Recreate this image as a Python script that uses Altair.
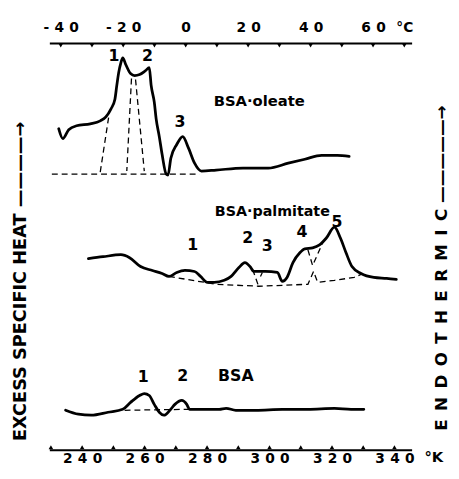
import altair as alt
import pandas as pd

# ---- data (x in K, y in arbitrary units of excess specific heat) ----
oleate_K = [232.5, 233.8, 235.7, 238.2, 242.6, 245.8, 247.6, 249.2, 250.5, 251.1, 251.7, 252.4,
            253.0, 254.0, 255.5, 256.8, 258.4, 260.3, 261.5, 262.1, 263.1, 263.7, 264.7, 265.6,
            266.9, 267.5, 268.4, 270.3, 272.2, 274.1, 276.0, 278.2, 282.9, 291.5, 299.6, 306.0,
            311.3, 316.7, 321.7, 325.5]
oleate_y = [326, 316, 325, 329, 331, 334, 338, 346, 356, 370, 383, 393,
            398, 391, 382, 380, 381, 385, 388, 370, 353, 336, 318, 300,
            280, 279, 296, 310, 318, 306, 291, 283, 284, 286, 286, 291,
            295, 299, 299, 298]

palm_K = [242.0, 246.7, 252.4, 255.2, 258.7, 262.5, 265.6, 267.8, 270.3, 272.9, 276.0, 277.9,
          280.1, 282.3, 285.5, 287.7, 290.2, 292.1, 294.0, 294.9, 298.7, 302.5, 304.1, 305.6,
          307.5, 309.7, 311.3, 313.8, 316.0, 318.2, 320.8, 322.7, 324.5, 326.4, 329.3, 333.4,
          337.5, 340.6]
palm_y = [194, 196, 198, 195, 186, 182, 179, 176, 180, 182, 181, 176,
          170, 170, 172, 176, 185, 190, 185, 181, 181, 180, 171, 175,
          190, 200, 204, 205, 208, 215, 226, 215, 200, 186, 179, 175,
          174, 173]

bsa_K = [234.7, 238.8, 242.9, 248.3, 253.0, 255.5, 258.4, 259.9, 261.5, 263.1, 264.7, 266.2,
         268.1, 269.7, 271.9, 273.5, 274.4, 278.8, 283.9, 286.1, 289.2, 295.6, 304.1, 312.3,
         320.8, 326.1, 330.2]
bsa_y = [40, 36, 35, 38, 41, 48, 55, 57, 55, 46, 38, 35,
         40, 46, 50, 46, 41, 41, 41, 42, 40, 40, 41, 41,
         42, 41, 41]

# dashed construction lines (baselines and peak resolution)
dash_segments = {
    "ole_base": ([230.3, 277.6], [280, 280]),
    "ole_c1L": ([245.8, 248.6], [282, 340]),
    "ole_c1R": ([257.1, 259.9], [376, 283]),
    "ole_c2L": ([255.8, 254.3], [377, 283]),
    "pal_base": ([267.8, 282.9, 296.5, 312.3, 314.1, 315.4, 320.8, 327.1, 329.3],
                 [176, 168, 166, 168, 181, 170, 172, 175, 178]),
    "pal_23": ([294.6, 296.5], [183, 166]),
    "pal_3": ([297.1, 297.7], [176, 180]),
    "pal_45": ([312.3, 313.8, 317.0], [203, 187, 210]),
    "bsa_base": ([253.6, 274.1], [40, 41]),
}

label_text = ["1", "2", "3", "BSA·oleate",
              "BSA·palmitate", "1", "2", "3", "4", "5",
              "1", "2", "BSA", "°K"]
label_K = [250.2, 260.9, 271.3, 296.7,
           300.9, 275.4, 293.0, 299.3, 310.4, 321.6,
           259.6, 272.2, 289.2, 352.6]
label_y = [400, 400, 333, 354.5,
           241.5, 208, 215, 207, 221, 231,
           74, 75, 75, -8]
label_size = [16, 16, 16, 15,
              14.5, 16, 16, 16, 16, 16,
              16, 16, 16, 15]

k_ticks = [230, 240, 250, 260, 270, 280, 290, 300, 310, 320, 330, 340]
c_ticks = [-40, -30, -20, -10, 0, 10, 20, 30, 40, 50, 60, 70]

# ---- build tables ----
rows = []
for name, ks, ys in [("oleate", oleate_K, oleate_y), ("palmitate", palm_K, palm_y), ("bsa", bsa_K, bsa_y)]:
    for i, (k, v) in enumerate(zip(ks, ys)):
        rows.append({"series": name, "i": i, "K": k, "y": v})
curve_df = pd.DataFrame(rows)

drows = []
for name, (ks, ys) in dash_segments.items():
    for i, (k, v) in enumerate(zip(ks, ys)):
        drows.append({"seg": name, "i": i, "K": k, "y": v})
dash_df = pd.DataFrame(drows)

lab_df = pd.DataFrame({"t": label_text, "K": label_K, "y": label_y, "fs": label_size})

tick_rows = [{"K": k, "ya": 2.5, "shp": "triangle-up"} for k in k_ticks]
tick_rows += [{"K": c + 273.15, "ya": 410.5, "shp": "triangle-down"} for c in c_ticks]
tick_df = pd.DataFrame(tick_rows)

W, H = 368, 413
FONT = "DejaVu Sans"
SP = "\u2008"

xs = alt.Scale(domain=[229.5, 345.5], nice=False, zero=False)
ys = alt.Scale(domain=[0, 413], nice=False, zero=False)

bottom_axis = alt.Axis(
    orient="bottom", values=k_ticks, ticks=False, grid=False, title=None,
    domainColor="black", domainWidth=2,
    labelExpr=f"datum.value % 20 == 0 ? join(split(toString(datum.value), ''), '{SP}') : ''",
    labelFont=FONT, labelFontSize=14, labelFontWeight="bold", labelColor="black",
    labelPadding=2, labelOverlap=False, labelFlush=False,
)
top_axis = alt.Axis(
    orient="top", values=[c + 273.15 for c in c_ticks], ticks=False, grid=False, title=None,
    domainColor="black", domainWidth=2,
    labelExpr=("round(datum.value - 273.15) == 70 ? '°C' : "
               "(round(datum.value - 273.15) % 20 == 0 ? "
               f"join(split(toString(round(datum.value - 273.15)), ''), '{SP}') : '')"),
    labelFont=FONT, labelFontSize=14, labelFontWeight="bold", labelColor="black",
    labelPadding=9, labelOverlap=False, labelFlush=False,
)
left_axis = alt.Axis(
    orient="left", domain=False, ticks=False, labels=False, grid=False,
    title="EXCESS SPECIFIC HEAT " + "\u2014" * 4 + "\u2192",
    titleAngle=270, titleX=-29, titleY=241.5, titleAlign="center", titleBaseline="middle",
    titleFont=FONT, titleFontSize=18, titleFontWeight="bold", titleColor="black",
)
right_axis = alt.Axis(
    orient="right", domain=False, ticks=False, labels=False, grid=False,
    title="\u2002".join("ENDOTHERMIC") + " " + "\u2014" * 5 + "\u2192",
    titleAngle=270, titleX=30, titleY=228, titleAlign="center", titleBaseline="middle",
    titleFont=FONT, titleFontSize=17, titleFontWeight="bold", titleColor="black",
)

curves = alt.Chart(curve_df).mark_line(
    color="black", strokeWidth=2.8, interpolate="monotone", strokeJoin="round", strokeCap="round"
).encode(
    x=alt.X("K:Q", scale=xs, axis=bottom_axis),
    y=alt.Y("y:Q", scale=ys, axis=left_axis),
    detail="series:N",
    order="i:Q",
)

dashes = alt.Chart(dash_df).mark_line(
    color="black", strokeWidth=1.3, strokeDash=[6, 4]
).encode(
    x=alt.X("K:Q", scale=xs, axis=top_axis),
    y=alt.Y("y:Q", scale=ys, axis=right_axis),
    detail="seg:N",
    order="i:Q",
)

ticks = alt.Chart(tick_df).mark_point(
    color="black", filled=True, opacity=1, size=22
).encode(
    x=alt.X("K:Q", scale=xs, axis=None),
    y=alt.Y("ya:Q", scale=ys, axis=None),
    shape=alt.Shape("shp:N", scale=None, legend=None),
)

labels = alt.Chart(lab_df).mark_text(
    font=FONT, fontWeight="bold", color="black", align="center", baseline="middle"
).encode(
    x=alt.X("K:Q", scale=xs, axis=None),
    y=alt.Y("y:Q", scale=ys, axis=None),
    text="t:N",
    size=alt.Size("fs:Q", scale=None),
)

chart = alt.layer(curves, dashes, ticks, labels).resolve_axis(
    x="independent", y="independent"
).properties(
    width=W, height=H,
    padding={"left": 42, "top": 32, "right": 40, "bottom": 16},
    autosize=alt.AutoSizeParams(type="none"),
    background="white",
).configure_view(stroke=None)

chart.save("out.html", embed_options={"renderer": "svg", "actions": False})
